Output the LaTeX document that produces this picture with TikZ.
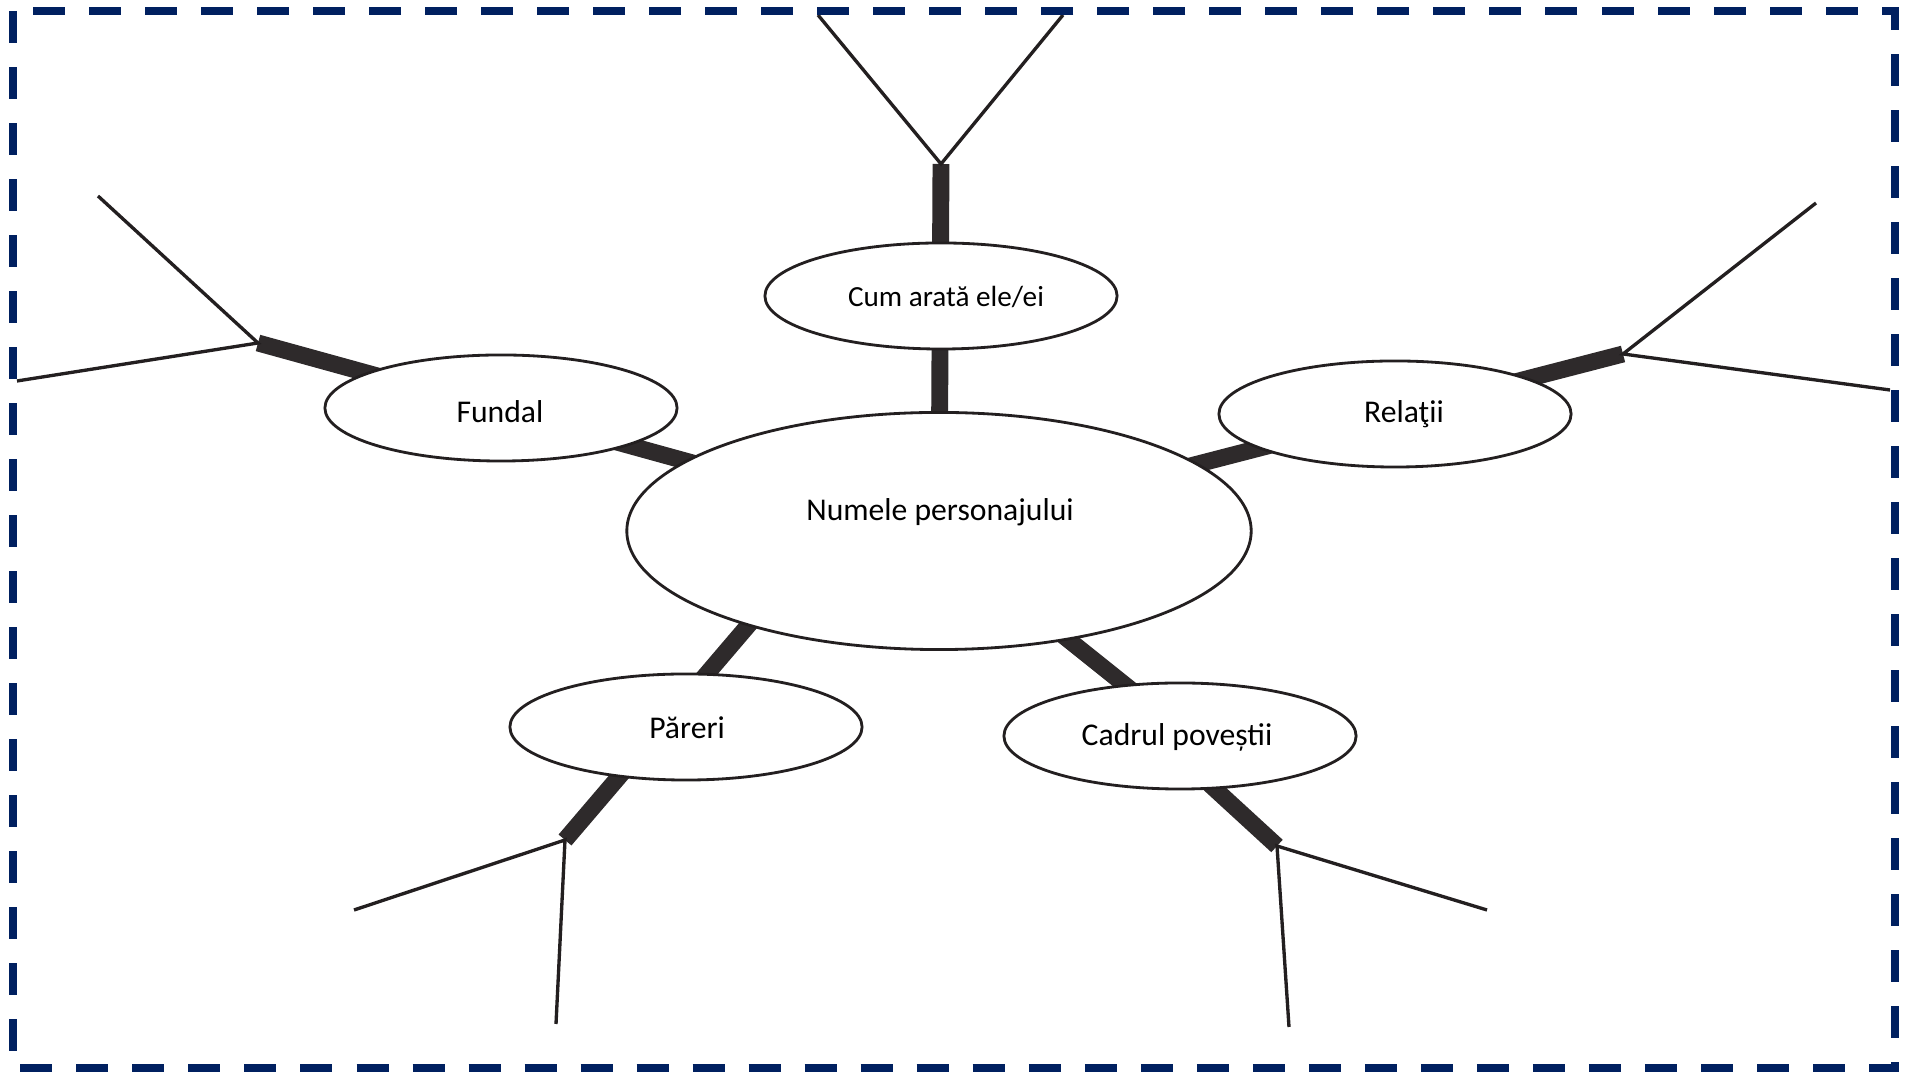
\documentclass[tikz,border=0pt]{standalone}
\usepackage{fontspec}
\setmainfont{Carlito}
\usetikzlibrary{shapes.geometric,backgrounds}
\definecolor{navy}{HTML}{002060}
\definecolor{ink}{HTML}{231F20}
\definecolor{bar}{HTML}{2E2A2B}
\begin{document}
\begin{tikzpicture}[x=0.01cm,y=-0.01cm,
  frame/.style={draw=navy, line width=2.28pt, dash pattern=on 9.1pt off 6.83pt},
  bubble/.style={ellipse, draw=ink, fill=white, line width=0.8pt,
    minimum width=3.52cm, minimum height=1.06cm, inner sep=0pt},
  hub/.style={bubble, minimum width=6.24cm, minimum height=2.37cm},
  stem/.style={draw=bar, line width=4.8pt},
  twig/.style={draw=ink, line width=0.95pt},
  lbl/.style={font=\fontsize{9}{11}\selectfont, inner sep=0pt, text=black}]

\useasboundingbox (0,0) rectangle (1906,1074);

% central bubble and the five topic bubbles
\node[hub]    (hub) at (939,531) {};
\node[bubble] (cum) at (941,296) {};
\node[bubble] (fun) at (501,408) {};
\node[bubble] (rel) at (1395,414) {};
\node[bubble] (par) at (686,727) {};
\node[bubble] (cad) at (1180,736) {};

% texts
\node[lbl] (hubt) at (940,512) {Numele personajului};
\node[lbl, font=\fontsize{8.3}{10}\selectfont] (cumt) at (946,297) {Cum arată ele/ei};
\node[lbl] (funt) at (500,412) {Fundal};
\node[lbl] (relt) at (1404,414) {Relaţii};
\node[lbl] (part) at (687,728) {Păreri};
\node[lbl] (cadt) at (1177,737) {Cadrul poveștii};

% branching points
\coordinate (jTop) at (941,164);
\coordinate (jFun) at (258,343);
\coordinate (jRel) at (1623,354);
\coordinate (jPar) at (565,840);
\coordinate (jCad) at (1277,846);

% hidden ends of the thick stems
\coordinate (pIn)  at (804,560);
\coordinate (cIn1) at (1030,609);
\coordinate (cIn2) at (1150,705);
\coordinate (cOut) at (1192,768);

% free ends of the thin twigs
\coordinate (tA) at (818,15);   \coordinate (tB) at (1063,15);
\coordinate (fA) at (98,196);   \coordinate (fB) at (17,381);
\coordinate (rA) at (1816,203); \coordinate (rB) at (1890,390);
\coordinate (pA) at (354,910);  \coordinate (pB) at (556,1024);
\coordinate (cA) at (1487,910); \coordinate (cB) at (1289,1027);

\begin{scope}[on background layer]
  \draw[stem] (jTop) -- (hub.center);
  \draw[stem] (jFun) -- (hub.center);
  \draw[stem] (jRel) -- (hub.center);
  \draw[stem] (jPar) -- (pIn);
  \draw[stem] (cIn1) -- (cIn2);
  \draw[stem] (cOut) -- (jCad);

  \draw[twig] (tA) -- (jTop) -- (tB);
  \draw[twig] (fA) -- (jFun) -- (fB);
  \draw[twig] (rA) -- (jRel) -- (rB);
  \draw[twig] (pA) -- (jPar) -- (pB);
  \draw[twig] (cA) -- (jCad) -- (cB);
\end{scope}

% dashed frame
\draw[frame] (13,11) rectangle (1895,1068);
\end{tikzpicture}
\end{document}
